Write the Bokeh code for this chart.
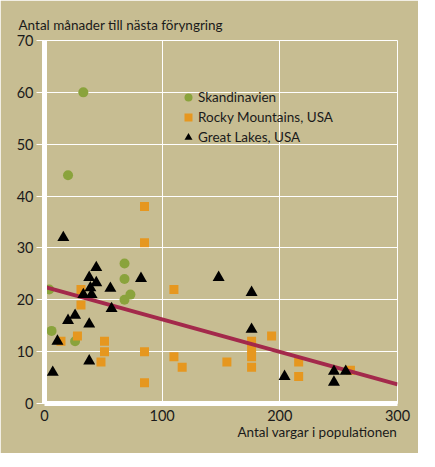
from bokeh.plotting import figure
from bokeh.models import Legend, LegendItem, Title, FixedTicker, Range1d
from bokeh.embed import file_html
from bokeh.resources import INLINE

# Data
skand_x = [33, 20, 4, 6, 26, 68, 68, 68, 73]
skand_y = [60, 44, 22, 14, 12, 27, 24, 20, 21]

rocky_x = [85, 85, 31, 31, 28, 14, 51, 51, 48, 85, 85, 110, 110, 117,
           155, 176, 176, 176, 176, 193, 216, 216, 260]
rocky_y = [38, 31, 22, 19, 13, 12, 12, 10, 8, 10, 4, 22, 9, 7,
           8, 12, 10.5, 9, 7, 13, 8, 5.2, 6.4]

lakes_x = [16, 7, 11, 20, 26, 33, 38, 39, 40, 38, 38, 44, 44, 56, 57, 82,
           148, 176, 176, 204, 246, 246, 256]
lakes_y = [32, 6, 12, 16, 17, 21, 24.3, 22.3, 21, 15.3, 8.2, 26.2, 23.3, 22.2, 18.3, 24.1,
           24.3, 21.4, 14.3, 5.2, 6.2, 4.1, 6.2]

reg_x = [0, 300]
reg_y = [22.5, 3.7]

x_ticks = [0, 100, 200, 300]
y_ticks = [0, 10, 20, 30, 40, 50, 60, 70]

series_names = ["Skandinavien", "Rocky Mountains, USA", "Great Lakes, USA"]
x_title = "Antal vargar i populationen"
y_title = "Antal månader till nästa föryngring"

BG = "#c7bd92"
GREEN = "#8aa33c"
ORANGE = "#e6971f"
RED = "#a3294b"
TXT = "#1a1a1a"
FONT = "Lato"

p = figure(width=418, height=453, output_backend="svg", toolbar_location=None,
           x_range=Range1d(0, 300), y_range=Range1d(0, 70),
           min_border_left=44, min_border_right=21, min_border_top=40, min_border_bottom=50)
p.background_fill_color = BG
p.border_fill_color = BG
p.outline_line_color = "white"
p.outline_line_width = 1

for ax in (p.xaxis[0], p.yaxis[0]):
    ax.axis_line_color = "white"
    ax.axis_line_width = 5
    ax.minor_tick_line_color = None
    ax.major_label_text_font = FONT
    ax.major_label_text_font_size = "14.5px"
    ax.major_label_text_color = TXT

p.xaxis[0].ticker = FixedTicker(ticks=x_ticks)
p.yaxis[0].ticker = FixedTicker(ticks=y_ticks)
p.xaxis[0].major_tick_line_color = None
p.xaxis[0].major_tick_out = 0
p.xaxis[0].major_tick_in = 0
p.xaxis[0].major_label_standoff = 6
p.yaxis[0].major_tick_line_color = "white"
p.yaxis[0].major_tick_line_width = 1
p.yaxis[0].major_tick_out = 8
p.yaxis[0].major_tick_in = 0
p.yaxis[0].major_label_standoff = 3

p.xgrid.ticker = FixedTicker(ticks=x_ticks)
p.ygrid.ticker = FixedTicker(ticks=y_ticks)
p.grid.grid_line_color = "white"
p.grid.grid_line_width = 1

r1 = p.scatter(skand_x, skand_y, marker="circle", size=10, fill_color=GREEN, line_color=None)
r2 = p.scatter(rocky_x, rocky_y, marker="square", size=9, fill_color=ORANGE, line_color=None)
p.line(reg_x, reg_y, line_color=RED, line_width=4)
r3 = p.scatter(lakes_x, lakes_y, marker="triangle", size=12, fill_color="black", line_color=None)

legend = Legend(items=[LegendItem(label=series_names[0], renderers=[r1]),
                       LegendItem(label=series_names[1], renderers=[r2]),
                       LegendItem(label=series_names[2], renderers=[r3])],
                location=(134, 256), orientation="vertical",
                background_fill_alpha=0, border_line_color=None,
                padding=0, margin=0, spacing=-1,
                glyph_width=20, glyph_height=20, label_height=20, label_standoff=0,
                label_text_font=FONT, label_text_font_size="13.5px", label_text_color=TXT)
p.add_layout(legend, "center")

p.add_layout(Title(text=x_title, align="right", standoff=-4,
                   text_font=FONT, text_font_size="13.5px", text_font_style="normal",
                   text_color=TXT), "below")
p.add_layout(Title(text=y_title, align="left", offset=-26, standoff=15,
                   text_font=FONT, text_font_size="13.5px", text_font_style="normal",
                   text_color=TXT), "above")

open("out.html", "w").write(file_html(p, INLINE))
